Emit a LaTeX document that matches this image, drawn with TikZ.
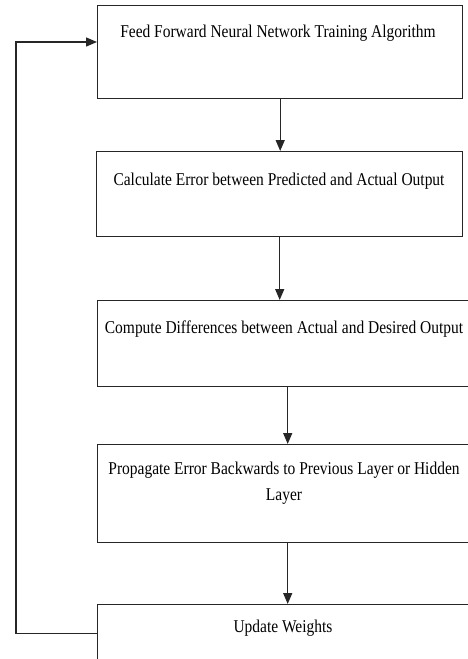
\documentclass[tikz,border=0pt]{standalone}
\usepackage{fontspec}
\setmainfont[FakeStretch=0.86]{Liberation Serif}
\usetikzlibrary{arrows.meta}
\begin{document}
\begin{tikzpicture}[x=1pt,y=-1pt,
  box/.style={draw=black!85, line width=1.4pt, rectangle, anchor=north west, inner sep=0pt},
  lbl/.style={anchor=base, inner sep=0pt, text=black, font=\fontsize{18}{26}\selectfont, align=center},
  conn/.style={draw=black!85, line width=1.4pt, -{Triangle[length=11pt,width=9pt]}}]
\useasboundingbox (0,0) rectangle (468,659);
\clip (0,0) rectangle (468,659);
\node[box, minimum width=365pt, minimum height=93pt] (b1) at (97,5) {};
\node[box, minimum width=366pt, minimum height=85pt] (b2) at (96,151) {};
\node[box, minimum width=380pt, minimum height=86pt] (b3) at (97,300) {};
\node[box, minimum width=380pt, minimum height=98pt] (b4) at (97,444) {};
\node[box, minimum width=380pt, minimum height=57pt] (b5) at (97,604) {};
\node[lbl] (t1) at (278,37) {Feed Forward Neural Network Training Algorithm};
\node[lbl] (t2) at (279,185) {Calculate Error between Predicted and Actual Output};
\node[lbl] (t3) at (284,333) {Compute Differences between Actual and Desired Output};
\node[lbl] (t4) at (284,500) {Propagate Error Backwards to Previous Layer or Hidden\\Layer};
\node[lbl] (t5) at (283,632) {Update Weights};
\draw[conn] (b1.south) -- (b1.south |- b2.north);
\draw[conn] (b2.south) -- (b2.south |- b3.north);
\draw[conn] (b3.south) -- (b3.south |- b4.north);
\draw[conn] (b4.south) -- (b4.south |- b5.north);
\coordinate (in1) at (97,42);
\coordinate (corner) at (16,42);
\draw[conn] (b5.west) -- (b5.west -| corner) -- (corner) -- (in1);
\end{tikzpicture}
\end{document}
